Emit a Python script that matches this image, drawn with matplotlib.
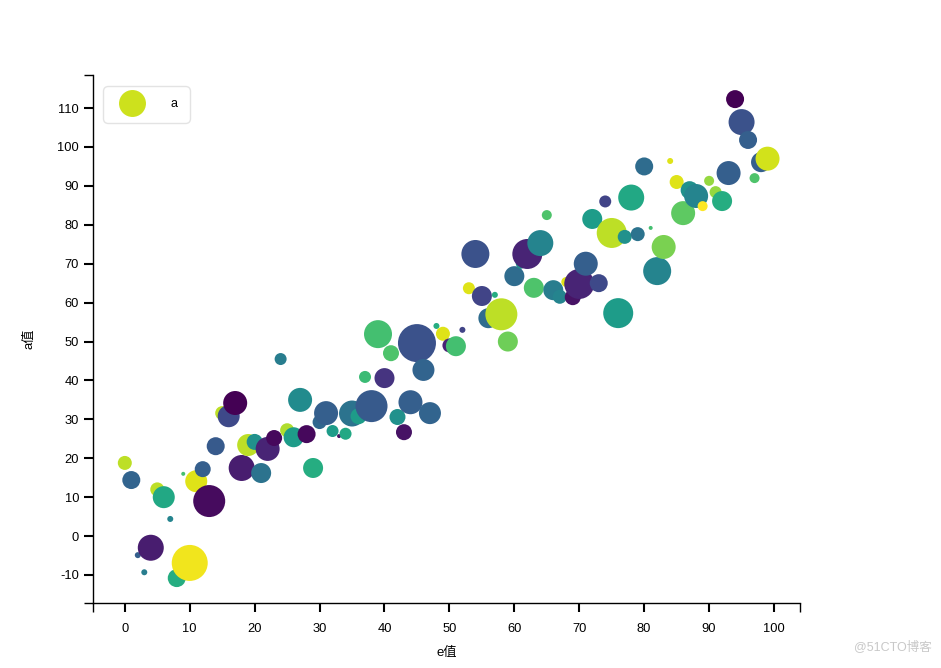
import numpy as np
import matplotlib
matplotlib.use("Agg")
import matplotlib.pyplot as plt
from matplotlib.lines import Line2D

# x values (e), y values (a), bubble radius (px), colour value (0..1 on viridis)
e_vals = [0, 1, 2, 3, 4, 5, 6, 7, 8, 9,
          10, 11, 12, 13, 14, 15, 16, 17, 18, 19,
          20, 21, 22, 23, 24, 25, 26, 27, 28, 29,
          30, 31, 32, 33, 34, 35, 36, 37, 38, 39,
          40, 41, 42, 43, 44, 45, 46, 47, 48, 49,
          50, 51, 52, 53, 54, 55, 56, 57, 58, 59,
          60, 61, 62, 63, 64, 65, 66, 67, 68, 69,
          70, 71, 72, 73, 74, 75, 76, 77, 78, 79,
          80, 81, 82, 83, 84, 85, 86, 87, 88, 89,
          90, 91, 92, 93, 94, 95, 96, 97, 98, 99]
a_vals = [18.8, 14.4, -4.9, -9.3, -3.0, 12.0, 10.0, 4.4, -10.8, 16.0,
          -6.9, 14.1, 17.2, 9.0, 23.1, 31.6, 30.8, 34.2, 17.5, 23.4,
          24.2, 16.2, 22.4, 25.2, 45.5, 27.2, 25.4, 35.0, 26.2, 17.5,
          29.3, 31.6, 27.0, 25.7, 26.3, 31.5, 30.8, 40.9, 33.4, 51.9,
          40.6, 47.0, 30.6, 26.7, 34.4, 49.6, 42.7, 31.6, 54.0, 52.0,
          49.0, 48.8, 53.0, 63.7, 72.5, 61.7, 56.0, 62.0, 57.0, 50.0,
          66.8, 70.0, 72.5, 63.8, 75.3, 82.5, 63.2, 61.5, 65.3, 61.4,
          64.8, 70.0, 81.5, 65.0, 86.0, 77.9, 57.3, 76.9, 87.0, 77.6,
          95.0, 79.2, 68.1, 74.3, 96.4, 91.0, 83.0, 88.9, 87.4, 84.8,
          91.3, 88.4, 86.1, 93.3, 112.3, 106.4, 101.8, 92.0, 96.1, 97.0]
b_vals = [7, 9, 3, 3, 13, 7, 11, 3, 9, 2,
          18, 11, 8, 16, 9, 7, 11, 12, 13, 11,
          8, 10, 12, 8, 6, 7, 10, 12, 9, 10,
          7, 12, 6, 2, 6, 13, 8, 6, 16, 14,
          10, 8, 8, 8, 12, 19, 11, 11, 3, 7,
          7, 10, 3, 6, 14, 10, 10, 3, 16, 10,
          10, 5, 15, 10, 13, 5, 10, 7, 5, 8,
          15, 12, 10, 9, 6, 15, 15, 7, 13, 7,
          9, 2, 14, 12, 3, 7, 12, 9, 12, 5,
          5, 6, 10, 12, 9, 13, 9, 5, 10, 12]
c_vals = [.90, .32, .30, .42, .08, .90, .60, .45, .62, .70,
          .98, .95, .30, .03, .28, .90, .22, .00, .08, .90,
          .50, .38, .10, .02, .42, .88, .55, .48, .02, .62,
          .33, .30, .55, .05, .60, .38, .55, .68, .28, .70,
          .15, .72, .50, .05, .30, .25, .32, .32, .62, .95,
          .10, .70, .20, .95, .25, .20, .35, .62, .90, .78,
          .35, .50, .10, .72, .45, .72, .42, .45, .95, .05,
          .10, .30, .55, .22, .20, .90, .55, .50, .60, .38,
          .35, .70, .45, .80, .95, .95, .75, .50, .45, 1.0,
          .84, .84, .62, .30, .00, .25, .30, .72, .30, .93]

x_ticks = [0, 10, 20, 30, 40, 50, 60, 70, 80, 90, 100]
y_ticks = [-10, 0, 10, 20, 30, 40, 50, 60, 70, 80, 90, 100, 110]
x_lim = (-4.9, 104.0)
y_lim = (-17.2, 118.5)

plt.rcParams["font.family"] = ["Liberation Sans", "Noto Sans CJK SC", "DejaVu Sans"]
plt.rcParams["axes.unicode_minus"] = False

fig = plt.figure(figsize=(9.41, 6.68), dpi=100)
ax = fig.add_axes([93 / 941, 1 - 603 / 668, (800 - 93) / 941, (603 - 75) / 668])

# radius in px -> marker area in pt^2
sizes = (2 * np.array(b_vals) * 0.72) ** 2
ax.scatter(e_vals, a_vals, s=sizes, c=c_vals, cmap="viridis", vmin=0, vmax=1,
           linewidths=0, zorder=3)

ax.set_xlim(*x_lim)
ax.set_ylim(*y_lim)
ax.set_xticks(x_ticks)
ax.set_yticks(y_ticks)
# d3-style outer ticks at both ends of each axis
ax.set_xticks(list(x_lim), minor=True)
ax.set_yticks(list(y_lim), minor=True)
for s in ("top", "right"):
    ax.spines[s].set_visible(False)
for s in ("left", "bottom"):
    ax.spines[s].set_linewidth(1.0)
ax.tick_params(which="major", direction="out", length=6.5, width=1.5,
               labelsize=9.3, colors="black")
ax.tick_params(which="minor", direction="out", length=6.5, width=1.0)
ax.tick_params(axis="x", which="major", pad=8)
ax.tick_params(axis="y", which="major", pad=3.5)

ax.set_xlabel("e值", fontsize=9.5, labelpad=8.5)
ax.set_ylabel("a值", fontsize=9.5, labelpad=16)

handle = Line2D([], [], marker="o", ls="none", markersize=19.4,
                markerfacecolor="#cde11d", markeredgewidth=0)
leg = ax.legend([handle], ["a"], loc="upper left", bbox_to_anchor=(0.014, 0.98),
                fontsize=9, frameon=True, fancybox=True, borderpad=1.0,
                handlelength=2.6, handletextpad=1.8, borderaxespad=0)
leg.get_frame().set_edgecolor("#dddddd")
leg.get_frame().set_linewidth(1.0)
leg.get_frame().set_boxstyle("round,pad=0,rounding_size=0.4")

fig.text(0.99, 0.022, "@51CTO博客", ha="right", va="bottom", fontsize=9,
         color="#c8c8c8")

fig.savefig("out.png", dpi=100)
